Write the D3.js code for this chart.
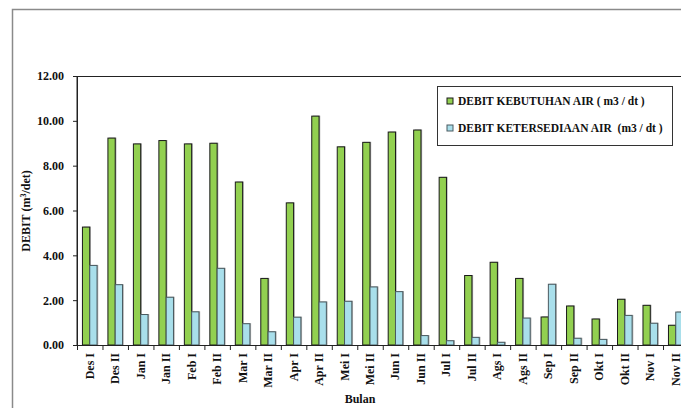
<!DOCTYPE html>
<html>
<head>
<meta charset="utf-8">
<script src="https://cdn.jsdelivr.net/npm/d3@7"></script>
<style>
  body { margin: 0; background: #fff; }
  svg text { font-family: "Liberation Serif", "Times New Roman", serif; font-weight: bold; fill: #111; white-space: pre; }
</style>
</head>
<body>
<svg id="chart_svg" width="681" height="408"></svg>
<script>
var svg = d3.select("#chart_svg");

// data
var BULAN = ["Des I", "Des II", "Jan I", "Jan II", "Feb I", "Feb II", "Mar I", "Mar II",
             "Apr I", "Apr II", "Mei I", "Mei II", "Jun I", "Jun II", "Jul I", "Jul II",
             "Ags I", "Ags II", "Sep I", "Sep II", "Okt I", "Okt II", "Nov I", "Nov II"];
var KEBUTUHAN = [5.26, 9.23, 8.97, 9.12, 8.97, 9.00, 7.27, 2.97, 6.34, 10.21, 8.84, 9.04,
                 9.50, 9.59, 7.48, 3.10, 3.69, 2.97, 1.25, 1.74, 1.16, 2.04, 1.77, 0.88];
var KETERSEDIAAN = [3.55, 2.69, 1.36, 2.13, 1.48, 3.42, 0.95, 0.59, 1.24, 1.92, 1.95, 2.59,
                    2.38, 0.42, 0.19, 0.34, 0.12, 1.20, 2.71, 0.30, 0.25, 1.32, 0.97, 1.47];
var SERIES = ["DEBIT KEBUTUHAN AIR ( m3 / dt )", "DEBIT KETERSEDIAAN AIR  (m3 / dt )"];
var Y_TICKS = [0, 2, 4, 6, 8, 10, 12];

var COLORS = ["#92d050", "#a9dfeb"];
var STROKES = ["#1a1a1a", "#4a5a60"];

var PLOT = {left: 77, top: 76, right: 688.5, bottom: 345};

var x = d3.scaleBand().domain(BULAN).range([PLOT.left, PLOT.right]).padding(0);
var xs = d3.scaleBand().domain([0, 1]).range([0, x.bandwidth()]).paddingInner(0).paddingOuter(0.745);
var y = d3.scaleLinear().domain([0, 12]).range([PLOT.bottom, PLOT.top]);

// outer frame (cropped)
svg.append("path")
    .attr("d", "M12.5,420 L12.5,9.5 L700,9.5")
    .attr("fill", "none")
    .attr("stroke", "#8a8a8a")
    .attr("stroke-width", 1.5);

// plot area border
svg.append("path")
    .attr("d", "M" + PLOT.left + "," + PLOT.bottom + " L" + PLOT.left + "," + (PLOT.top + 0.5) + " L700," + (PLOT.top + 0.5))
    .attr("fill", "none")
    .attr("stroke", "#222")
    .attr("stroke-width", 1);

// bars
var rows = [];
BULAN.forEach(function(b, i){
    rows.push({bulan: b, s: 0, v: KEBUTUHAN[i]});
    rows.push({bulan: b, s: 1, v: KETERSEDIAAN[i]});
});

// shadows
svg.append("g").selectAll("rect")
    .data(rows)
    .enter()
    .append("rect")
    .attr("x", function(d){ return x(d.bulan) + xs(d.s) + 1.2; })
    .attr("y", function(d){ return y(d.v) - 0.5; })
    .attr("width", xs.bandwidth())
    .attr("height", function(d){ return y(0) - y(d.v) + 0.5; })
    .attr("fill", "#9a9a9a")
    .attr("opacity", 0.8);

svg.append("g").selectAll("rect")
    .data(rows)
    .enter()
    .append("rect")
    .attr("x", function(d){ return x(d.bulan) + xs(d.s); })
    .attr("y", function(d){ return y(d.v); })
    .attr("width", xs.bandwidth())
    .attr("height", function(d){ return y(0) - y(d.v); })
    .attr("fill", function(d){ return COLORS[d.s]; })
    .attr("stroke", function(d){ return STROKES[d.s]; })
    .attr("stroke-width", 1);

// y axis
var yAxis = svg.append("g")
    .attr("transform", "translate(" + PLOT.left + ",0)")
    .call(d3.axisLeft(y).tickValues(Y_TICKS).tickFormat(d3.format(".2f")).tickSizeOuter(0).tickSize(4).tickPadding(9));
yAxis.select(".domain").attr("stroke", "#222");
yAxis.selectAll(".tick line").attr("stroke", "#222");
yAxis.selectAll("text").style("font-size", "12px").attr("fill", "#111");

// x axis
var xAxis = svg.append("g")
    .attr("transform", "translate(0," + PLOT.bottom + ")");
xAxis.append("line")
    .attr("x1", PLOT.left - 4).attr("x2", 700)
    .attr("y1", 0.5).attr("y2", 0.5)
    .attr("stroke", "#222");
xAxis.selectAll("line.tk")
    .data(BULAN)
    .enter()
    .append("line")
    .attr("class", "tk")
    .attr("x1", function(d){ return x(d) + 0.5; })
    .attr("x2", function(d){ return x(d) + 0.5; })
    .attr("y1", 0).attr("y2", 5)
    .attr("stroke", "#222");
xAxis.selectAll("text")
    .data(BULAN)
    .enter()
    .append("text")
    .attr("transform", function(d){
        return "translate(" + (x(d) + x.bandwidth() / 2 + 4) + ",8) rotate(-90)";
    })
    .attr("text-anchor", "end")
    .style("font-size", "12px")
    .text(function(d){ return d; });

// axis titles
svg.append("text")
    .attr("transform", "translate(30,211) rotate(-90)")
    .attr("text-anchor", "middle")
    .style("font-size", "12px")
    .html("DEBIT (m<tspan baseline-shift=\"super\" font-size=\"8px\">3</tspan>/det)");

svg.append("text")
    .attr("x", 360)
    .attr("y", 403)
    .attr("text-anchor", "middle")
    .style("font-size", "12px")
    .text("Bulan");

// legend
var legend = svg.append("g");
legend.append("rect")
    .attr("x", 437.5).attr("y", 86.5)
    .attr("width", 235).attr("height", 59)
    .attr("fill", "#fff")
    .attr("stroke", "#333");
var li = legend.selectAll("g.item")
    .data(SERIES)
    .enter()
    .append("g")
    .attr("class", "item")
    .attr("transform", function(d, i){ return "translate(447," + (101 + i * 27) + ")"; });
li.append("rect")
    .attr("x", 0).attr("y", -3)
    .attr("width", 6).attr("height", 6)
    .attr("fill", function(d, i){ return COLORS[i]; })
    .attr("stroke", function(d, i){ return STROKES[i]; });
li.append("text")
    .attr("x", 11)
    .attr("y", 4)
    .style("font-size", "11.5px")
    .text(function(d){ return d; });
</script>
</body>
</html>
